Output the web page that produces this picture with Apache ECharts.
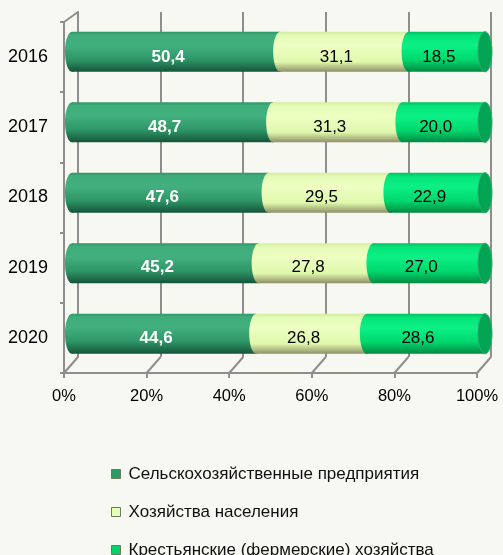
<!DOCTYPE html>
<html>
<head>
<meta charset="utf-8">
<script src="https://cdn.jsdelivr.net/npm/echarts@6/dist/echarts.min.js"></script>
<style>
html,body{margin:0;padding:0;background:#f6f8f1;}
#chart{width:503px;height:555px;}
</style>
</head>
<body>
<div id="chart"></div>
<script>
var years = ['2016', '2017', '2018', '2019', '2020'];
var seriesNames = ['Сельскохозяйственные предприятия', 'Хозяйства населения', 'Крестьянские (фермерские) хозяйства'];
var agroEnterprises = [50.4, 48.7, 47.6, 45.2, 44.6];
var households = [31.1, 31.3, 29.5, 27.8, 26.8];
var farms = [18.5, 20.0, 22.9, 27.0, 28.6];
var xTicks = [0, 20, 40, 60, 80, 100];

var values = [agroEnterprises, households, farms];
var gradients = [
  [[0, '#2f9466'], [0.08, '#3fac7a'], [0.35, '#42b07e'], [0.7, '#2e9566'], [1, '#15533a']],
  [[0, '#d3eca2'], [0.1, '#e4fbb6'], [0.35, '#eeffc2'], [0.75, '#dff8ac'], [1, '#8f8e66']],
  [[0, '#00c061'], [0.1, '#05e47a'], [0.35, '#0bf085'], [0.7, '#00d86d'], [1, '#008a42']]
];
var legendColors = ['#2e9a66', '#e2ffb2', '#00d36a'];
var capColor = '#00a452';

var W = 503, H = 555;
// back wall, front axis frame, bar plane
var back = {left: 78, right: 12, top: 12, bottom: 198};
var front = {left: 64, right: 26, top: 22, bottom: 182};
var bars = {left: 72, right: 18, top: 16.5, bottom: 186};

function cum(k) {
  return years.map(function (y, i) {
    var s = 0;
    for (var j = 0; j < k; j++) s += values[j][i];
    return s;
  });
}

function makeRender(k) {
  var isLast = k === values.length - 1;
  return function (params, api) {
    var s = api.value(0), e = api.value(1), c = api.value(2);
    var p0 = api.coord([s, c]);
    var p1 = api.coord([e, c]);
    var h = api.size([0, 1])[1] * 0.57;
    var rx = 7;
    var grad = new echarts.graphic.LinearGradient(0, 0, 0, 1, gradients[k].map(function (g) { return {offset: g[0], color: g[1]}; }));
    var children = [
      {type: 'rect', shape: {x: p0[0], y: p0[1] - h / 2, width: p1[0] - p0[0], height: h}, style: {fill: grad}},
      {type: 'ellipse', shape: {cx: p0[0], cy: p0[1], rx: rx, ry: h / 2}, style: {fill: grad}}
    ];
    if (isLast) {
      children.push({type: 'ellipse', shape: {cx: p1[0], cy: p1[1], rx: rx, ry: h / 2},
        style: {fill: capColor, stroke: '#3aa56e', lineWidth: 1}});
    }
    return {type: 'group', children: children};
  };
}

var series = [];
values.forEach(function (vals, k) {
  var starts = cum(k);
  series.push({
    name: seriesNames[k],
    type: 'custom',
    xAxisIndex: 2, yAxisIndex: 2,
    renderItem: makeRender(k),
    itemStyle: {color: legendColors[k]},
    encode: {x: [0, 1], y: 2},
    data: vals.map(function (v, i) { return [starts[i], starts[i] + v, i]; }),
    z: 3,
    silent: true
  });
});
values.forEach(function (vals, k) {
  series.push({
    name: 'label' + k,
    type: 'bar',
    stack: 'lbl',
    xAxisIndex: 1, yAxisIndex: 1,
    barWidth: 40,
    itemStyle: {color: 'rgba(0,0,0,0)'},
    silent: true,
    z: 5,
    label: {
      show: true, position: 'inside',
      fontFamily: 'Liberation Sans, Arial, sans-serif',
      fontSize: 17,
      fontWeight: k === 0 ? 'bold' : 'normal',
      color: k === 0 ? '#ffffff' : '#000000',
      formatter: function (p) { return p.value.toFixed(1).replace('.', ','); }
    },
    data: vals
  });
});

var gridLine = {color: '#8e8e8e', width: 2};
var option = {
  backgroundColor: '#f6f8f1',
  animation: false,
  grid: [
    {left: back.left, right: back.right, top: back.top, bottom: back.bottom},
    {left: front.left, right: front.right, top: front.top, bottom: front.bottom},
    {left: bars.left, right: bars.right, top: bars.top, bottom: bars.bottom}
  ],
  xAxis: [
    {gridIndex: 0, type: 'value', min: 0, max: 100, interval: 20,
      axisLine: {show: false}, axisTick: {show: false}, axisLabel: {show: false},
      splitLine: {show: true, lineStyle: gridLine}},
    {gridIndex: 1, type: 'value', min: 0, max: 100, interval: 20,
      axisLine: {show: true, lineStyle: gridLine},
      axisTick: {show: true, length: 5, lineStyle: gridLine},
      splitLine: {show: false},
      axisLabel: {margin: 15, formatter: '{value}%', color: '#000', fontSize: 16.5,
        fontFamily: 'Liberation Sans, Arial, sans-serif'}},
    {gridIndex: 2, type: 'value', min: 0, max: 100, show: false}
  ],
  yAxis: [
    {gridIndex: 0, type: 'category', inverse: true, data: years,
      axisLine: {show: true, lineStyle: gridLine}, axisTick: {show: false}, axisLabel: {show: false}},
    {gridIndex: 1, type: 'category', inverse: true, data: years,
      axisLine: {show: true, lineStyle: gridLine},
      axisTick: {show: true, length: 4, lineStyle: gridLine},
      axisLabel: {margin: 16, color: '#000', fontSize: 18, fontFamily: 'Liberation Sans, Arial, sans-serif'}},
    {gridIndex: 2, type: 'category', inverse: true, data: years, show: false}
  ],
  legend: {
    orient: 'vertical',
    left: 111, top: 464, height: 120,
    padding: 0,
    itemWidth: 9, itemHeight: 9, itemGap: 18,
    icon: 'rect',
    selectedMode: false,
    textStyle: {fontSize: 17, lineHeight: 20, color: '#111', fontFamily: 'Liberation Sans, Arial, sans-serif', padding: [0, 0, 0, 3]},
    data: seriesNames.map(function (n, k) {
      return {name: n, itemStyle: {color: legendColors[k], borderColor: '#6a7a60', borderWidth: 1}};
    })
  },
  series: series
};

var chart = echarts.init(document.getElementById('chart'));
chart.setOption(option);

// 3D frame connectors between back wall and front axis
var backBottom = H - back.bottom, frontBottom = H - front.bottom;
var deco = [];
xTicks.forEach(function (v) {
  var xb = chart.convertToPixel({xAxisIndex: 0}, v);
  var xf = chart.convertToPixel({xAxisIndex: 1}, v);
  deco.push({type: 'line', z: 1, shape: {x1: xb, y1: backBottom, x2: xf, y2: frontBottom},
    style: {stroke: gridLine.color, lineWidth: 2}});
});
var xb0 = chart.convertToPixel({xAxisIndex: 0}, 0);
var xf0 = chart.convertToPixel({xAxisIndex: 1}, 0);
deco.push({type: 'line', z: 1, shape: {x1: xf0, y1: front.top, x2: xb0, y2: back.top},
  style: {stroke: gridLine.color, lineWidth: 2}});
deco.push({type: 'line', z: 1, shape: {x1: xf0 - 4, y1: front.top, x2: xf0, y2: front.top},
  style: {stroke: gridLine.color, lineWidth: 2}});
chart.setOption({graphic: deco});
</script>
</body>
</html>
